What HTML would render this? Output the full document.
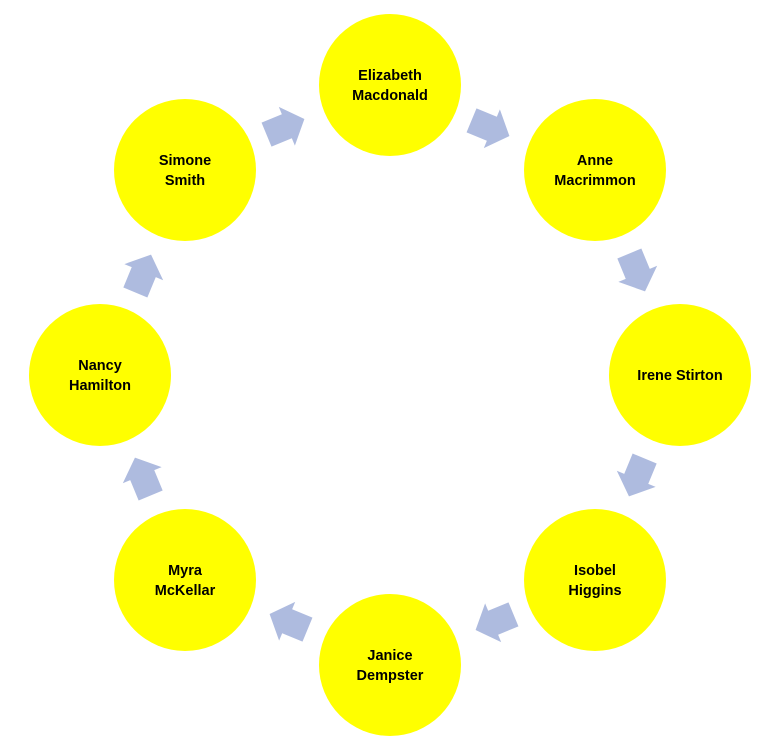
<!DOCTYPE html>
<html><head><style>
html,body{margin:0;padding:0;background:#fff;}
svg{display:block;}
text{font-family:"Liberation Sans",Arial,sans-serif;font-weight:bold;font-size:14.5px;fill:#000;text-anchor:middle;}
</style></head><body>
<svg width="765" height="745" viewBox="0 0 765 745">
<defs>
<polygon id="ar" points="-20,-13 2,-13 2,-21 21,0 2,21 2,13 -20,13" fill="#AEBBDF"/>
</defs>
<g fill="#FFFF00">
<circle cx="390" cy="85" r="71"/>
<circle cx="595" cy="170" r="71"/>
<circle cx="680" cy="375" r="71"/>
<circle cx="595" cy="580" r="71"/>
<circle cx="390" cy="665" r="71"/>
<circle cx="185" cy="580" r="71"/>
<circle cx="100" cy="375" r="71"/>
<circle cx="185" cy="170" r="71"/>
</g>
<use href="#ar" transform="translate(490,128) rotate(22.5)"/>
<use href="#ar" transform="translate(637,272) rotate(67.5)"/>
<use href="#ar" transform="translate(637,477) rotate(112.5)"/>
<use href="#ar" transform="translate(495,622) rotate(157.5)"/>
<use href="#ar" transform="translate(289,622) rotate(202.5)"/>
<use href="#ar" transform="translate(143,477) rotate(247.5)"/>
<use href="#ar" transform="translate(143,274) rotate(292.5)"/>
<use href="#ar" transform="translate(285,127) rotate(337.5)"/>
<text x="390" y="80">Elizabeth</text><text x="390" y="100">Macdonald</text>
<text x="595" y="165">Anne</text><text x="595" y="185">Macrimmon</text>
<text x="680" y="380">Irene Stirton</text>
<text x="595" y="575">Isobel</text><text x="595" y="595">Higgins</text>
<text x="390" y="660">Janice</text><text x="390" y="680">Dempster</text>
<text x="185" y="575">Myra</text><text x="185" y="595">McKellar</text>
<text x="100" y="370">Nancy</text><text x="100" y="390">Hamilton</text>
<text x="185" y="165">Simone</text><text x="185" y="185">Smith</text>
</svg>
</body></html>
